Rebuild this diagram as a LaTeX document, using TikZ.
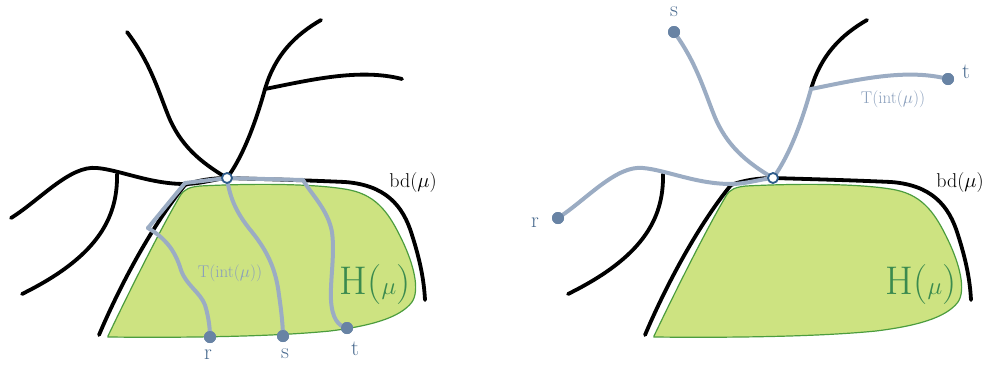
\documentclass[tikz,border=0pt]{standalone}
\definecolor{fillg}{HTML}{CDE381}
\definecolor{edgeg}{HTML}{4C9D3E}
\definecolor{textg}{HTML}{3A8A4E}
\definecolor{treec}{HTML}{9BACC3}
\definecolor{dotc}{HTML}{6883A4}
\definecolor{labc}{HTML}{4A6B8F}
\definecolor{tlab}{HTML}{8A9FBC}
\definecolor{vtxc}{HTML}{2E5C8B}
\begin{document}
\begin{tikzpicture}[x=1pt,y=-1pt,
 blk/.style={line width=3.8pt,black,line cap=round,line join=round},
 treeline/.style={line width=4pt,treec,line cap=round,line join=miter},
 region/.style={fill=fillg,draw=edgeg,line width=1.2pt},
 dotnode/.style={circle,fill=dotc,inner sep=0pt,minimum size=12pt},
 vtxnode/.style={circle,fill=white,draw=vtxc,line width=1.8pt,inner sep=0pt,minimum size=10pt},
 ptlabel/.style={text=labc,font=\fontsize{22}{24}\selectfont,inner sep=0pt},
 bdlabel/.style={text=black,font=\fontsize{20}{22}\selectfont,inner sep=0pt},
 tlabel/.style={text=tlab,font=\fontsize{17}{19}\selectfont,inner sep=0pt},
 hlabel/.style={text=textg,font=\fontsize{40}{42}\selectfont,inner sep=0pt}]
\useasboundingbox (0,0) rectangle (986,365);

% ================= LEFT PANEL =================
\path[region] (108,336) .. controls (130,290) and (160,230) .. (180,196)
  .. controls (184,189) and (190,187) .. (200,186)
  .. controls (260,183) and (320,184) .. (350,190)
  .. controls (378,196) and (390,215) .. (402,240)
  .. controls (414,265) and (420,290) .. (412,302)
  .. controls (400,318) and (370,326) .. (330,331)
  .. controls (280,336) and (200,338) .. (108,337) -- cycle;

\coordinate (vL) at (227,178);
% black curves
\draw[blk] (127,32) .. controls (150,62) and (158,90) .. (168,115)
  .. controls (180,145) and (200,162) .. (vL);
\draw[blk] (vL) .. controls (242,158) and (255,125) .. (265,89)
  .. controls (275,55) and (295,35) .. (321,20);
\draw[blk] (265,89) .. controls (310,80) and (360,68) .. (402,79);
\draw[blk] (11,218) .. controls (40,200) and (70,165) .. (97,168)
  .. controls (120,170) and (150,184) .. (185,184)
  .. controls (200,184) and (215,179) .. (vL);
\draw[blk] (117,174) .. controls (118,220) and (95,258) .. (22,294);
\draw[blk] (99,335) .. controls (118,290) and (150,228) .. (185,185)
  .. controls (198,180) and (214,178) .. (vL)
  .. controls (260,179) and (300,180) .. (345,182)
  .. controls (385,185) and (403,205) .. (412,235)
  .. controls (420,260) and (424,280) .. (425,300);

% tree
\node[dotnode] (rL) at (210,337) {};
\node[dotnode] (sL) at (283,336) {};
\node[dotnode] (tL) at (347,328) {};
\draw[treeline] (148,228) -- (185,183) -- (vL) -- (303,180);
\draw[treeline] (148,228) .. controls (165,238) and (175,250) .. (181,270)
  .. controls (186,285) and (200,292) .. (205,305)
  .. controls (209,318) and (210,330) .. (rL.center);
\draw[treeline] (vL) .. controls (230,200) and (238,215) .. (252,232)
  .. controls (268,252) and (276,270) .. (279,295)
  .. controls (282,315) and (283,330) .. (sL.center);
\draw[treeline] (303,180) .. controls (312,195) and (328,210) .. (332,232)
  .. controls (335,255) and (330,280) .. (331,300)
  .. controls (332,318) and (338,326) .. (tL.center);
\node[dotnode] at (rL) {};
\node[dotnode] at (sL) {};
\node[dotnode] at (tL) {};
\node[vtxnode] (vLn) at (vL) {};

\node[ptlabel] (rLl) at (208,355) {r};
\node[ptlabel] (sLl) at (285,354) {s};
\node[ptlabel] (tLl) at (355,349) {t};
\node[tlabel] (TL) at (230,273) {T(int($\mu$))};
\node[hlabel] (HL) at (375,285) {H($\mu$)};
\node[bdlabel] (bdL) at (413,183) {bd($\mu$)};

% ================= RIGHT PANEL =================
\begin{scope}[xshift=546pt]
\path[region] (108,336) .. controls (130,290) and (160,230) .. (180,196)
  .. controls (184,189) and (190,187) .. (200,186)
  .. controls (260,183) and (320,184) .. (350,190)
  .. controls (378,196) and (390,215) .. (402,240)
  .. controls (414,265) and (420,290) .. (412,302)
  .. controls (400,318) and (370,326) .. (330,331)
  .. controls (280,336) and (200,338) .. (108,337) -- cycle;

\coordinate (vR) at (227,178);
\draw[blk] (265,89) .. controls (275,55) and (295,35) .. (321,20);
\draw[blk] (117,174) .. controls (118,220) and (95,258) .. (22,294);
\draw[blk] (99,335) .. controls (118,290) and (150,228) .. (185,185)
  .. controls (198,180) and (214,178) .. (vR)
  .. controls (260,179) and (300,180) .. (345,182)
  .. controls (385,185) and (403,205) .. (412,235)
  .. controls (420,260) and (424,280) .. (425,300);

\node[dotnode] (sR) at (128,32) {};
\node[dotnode] (rR) at (12,218) {};
\node[dotnode] (tR) at (402,79) {};
\draw[treeline] (sR.center) .. controls (150,62) and (158,90) .. (168,115)
  .. controls (180,145) and (200,162) .. (vR);
\draw[treeline] (rR.center) .. controls (40,200) and (70,165) .. (97,168)
  .. controls (120,170) and (150,184) .. (185,184)
  .. controls (200,184) and (215,179) .. (vR);
\draw[treeline] (vR) .. controls (242,158) and (255,125) .. (265,89)
  .. controls (310,80) and (360,68) .. (tR.center);
\node[dotnode] at (sR) {};
\node[dotnode] at (rR) {};
\node[dotnode] at (tR) {};
\node[vtxnode] (vRn) at (vR) {};

\node[ptlabel] (sRl) at (128,12) {s};
\node[ptlabel] (rRl) at (-11,223) {r};
\node[ptlabel] (tRl) at (420,72) {t};
\node[tlabel] (TR) at (347,99) {T(int($\mu$))};
\node[hlabel] (HR) at (375,285) {H($\mu$)};
\node[bdlabel] (bdR) at (414,183) {bd($\mu$)};
\end{scope}
\end{tikzpicture}
\end{document}
